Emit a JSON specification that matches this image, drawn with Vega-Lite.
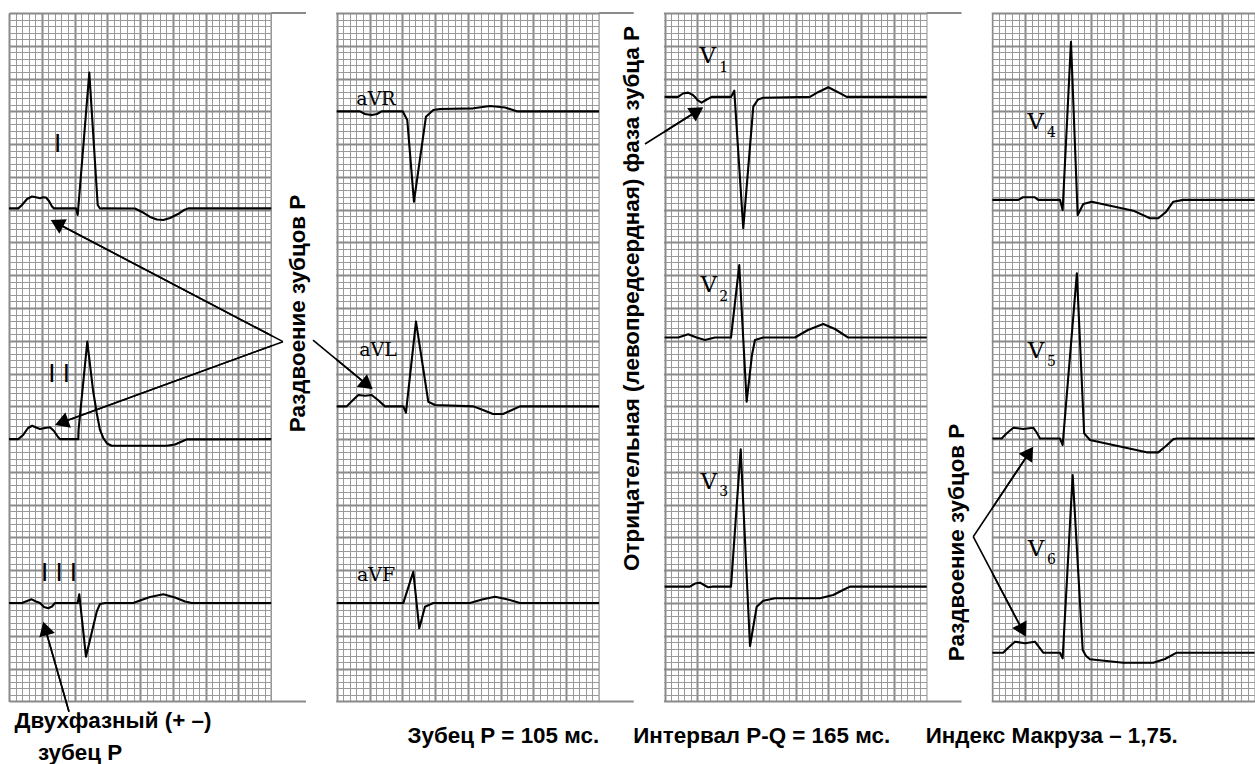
{
  "$schema": "https://vega.github.io/schema/vega-lite/v6.json",
  "width": 1245.6,
  "height": 688.4,
  "autosize": {"type": "none"},
  "padding": {"left": 9, "top": 13, "right": 0.4, "bottom": 62.6},
  "background": "white",
  "config": {"view": {"stroke": null}},
  "datasets": {
    "traces": [
      {"lead":"I","x":0,"y":75.2},{"lead":"I","x":1.42,"y":75.2},{"lead":"I","x":1.98,"y":75.72},{"lead":"I","x":2.75,"y":76.63},{"lead":"I","x":3.51,"y":77.01},{"lead":"I","x":4.27,"y":76.86},{"lead":"I","x":4.73,"y":76.74},{"lead":"I","x":5.19,"y":76.89},{"lead":"I","x":5.64,"y":76.86},{"lead":"I","x":6.1,"y":76.33},{"lead":"I","x":6.56,"y":75.49},{"lead":"I","x":6.86,"y":75.2},{"lead":"I","x":10.22,"y":75.2},{"lead":"I","x":10.48,"y":74.19},{"lead":"I","x":12.25,"y":95.9},{"lead":"I","x":13.53,"y":75.72},{"lead":"I","x":13.88,"y":75.18},{"lead":"I","x":14.38,"y":75.2},{"lead":"I","x":19.22,"y":75.18},{"lead":"I","x":20.29,"y":74.65},{"lead":"I","x":21.51,"y":73.89},{"lead":"I","x":22.57,"y":73.5},{"lead":"I","x":23.54,"y":73.43},{"lead":"I","x":24.56,"y":73.74},{"lead":"I","x":25.78,"y":74.34},{"lead":"I","x":26.69,"y":74.95},{"lead":"I","x":27.35,"y":75.2},{"lead":"I","x":40,"y":75.2},
      {"lead":"II","x":0,"y":40},{"lead":"II","x":1.42,"y":40},{"lead":"II","x":2.14,"y":40.63},{"lead":"II","x":2.9,"y":41.7},{"lead":"II","x":3.55,"y":42.05},{"lead":"II","x":4.12,"y":41.78},{"lead":"II","x":4.73,"y":41.55},{"lead":"II","x":5.49,"y":41.7},{"lead":"II","x":6.25,"y":41.81},{"lead":"II","x":6.86,"y":41.24},{"lead":"II","x":7.47,"y":40.33},{"lead":"II","x":7.78,"y":40},{"lead":"II","x":10.57,"y":40},{"lead":"II","x":10.61,"y":41.4},{"lead":"II","x":11.94,"y":54.87},{"lead":"II","x":12.81,"y":47.5},{"lead":"II","x":13.38,"y":43.99},{"lead":"II","x":13.88,"y":41.4},{"lead":"II","x":14.38,"y":40.18},{"lead":"II","x":14.95,"y":39.34},{"lead":"II","x":15.67,"y":39.0},{"lead":"II","x":24.05,"y":39.0},{"lead":"II","x":25.32,"y":39.18},{"lead":"II","x":26.54,"y":39.72},{"lead":"II","x":27.1,"y":39.97},{"lead":"II","x":40,"y":40},
      {"lead":"III","x":0,"y":15},{"lead":"III","x":1.98,"y":15},{"lead":"III","x":2.75,"y":15.31},{"lead":"III","x":3.46,"y":15.57},{"lead":"III","x":4.12,"y":15.24},{"lead":"III","x":4.73,"y":15},{"lead":"III","x":5.34,"y":14.4},{"lead":"III","x":5.99,"y":14.2},{"lead":"III","x":6.56,"y":14.47},{"lead":"III","x":7.02,"y":15},{"lead":"III","x":10.48,"y":15},{"lead":"III","x":10.72,"y":16.34},{"lead":"III","x":11.74,"y":6.82},{"lead":"III","x":13.38,"y":13.68},{"lead":"III","x":13.88,"y":14.86},{"lead":"III","x":14.64,"y":15},{"lead":"III","x":18.96,"y":15},{"lead":"III","x":19.98,"y":15.39},{"lead":"III","x":21.51,"y":15.92},{"lead":"III","x":23.54,"y":16.34},{"lead":"III","x":25.32,"y":15.85},{"lead":"III","x":26.85,"y":15.24},{"lead":"III","x":27.87,"y":15},{"lead":"III","x":40,"y":15},
      {"lead":"aVR","x":50,"y":90},{"lead":"aVR","x":53.54,"y":90},{"lead":"aVR","x":54.3,"y":89.6},{"lead":"aVR","x":55.32,"y":89.44},{"lead":"aVR","x":56.13,"y":89.6},{"lead":"aVR","x":56.85,"y":90},{"lead":"aVR","x":60.05,"y":90},{"lead":"aVR","x":60.75,"y":88.68},{"lead":"aVR","x":61.77,"y":76.22},{"lead":"aVR","x":63.6,"y":89.18},{"lead":"aVR","x":64.72,"y":90.21},{"lead":"aVR","x":65.74,"y":90.36},{"lead":"aVR","x":70.82,"y":90.46},{"lead":"aVR","x":73.37,"y":90.82},{"lead":"aVR","x":75.66,"y":90.59},{"lead":"aVR","x":77.44,"y":90},{"lead":"aVR","x":90,"y":90},
      {"lead":"aVL","x":50,"y":45},{"lead":"aVL","x":51.51,"y":45},{"lead":"aVL","x":52.32,"y":45.82},{"lead":"aVL","x":53.28,"y":46.74},{"lead":"aVL","x":54.3,"y":46.63},{"lead":"aVL","x":55.32,"y":46.74},{"lead":"aVL","x":56.28,"y":45.97},{"lead":"aVL","x":57.35,"y":45},{"lead":"aVL","x":60.14,"y":45},{"lead":"aVL","x":60.55,"y":44.04},{"lead":"aVL","x":62.08,"y":57.92},{"lead":"aVL","x":63.96,"y":45.71},{"lead":"aVL","x":64.98,"y":45.21},{"lead":"aVL","x":70.82,"y":45},{"lead":"aVL","x":72.3,"y":44.45},{"lead":"aVL","x":73.82,"y":43.84},{"lead":"aVL","x":75.35,"y":43.84},{"lead":"aVL","x":76.72,"y":44.45},{"lead":"aVL","x":77.94,"y":45},{"lead":"aVL","x":90,"y":45},
      {"lead":"aVF","x":50,"y":15},{"lead":"aVF","x":60.14,"y":15},{"lead":"aVF","x":61.67,"y":19.78},{"lead":"aVF","x":62.58,"y":11.15},{"lead":"aVF","x":63.45,"y":14.44},{"lead":"aVF","x":64.72,"y":15},{"lead":"aVF","x":70.32,"y":15},{"lead":"aVF","x":72.15,"y":15.54},{"lead":"aVF","x":74.13,"y":15.97},{"lead":"aVF","x":76.11,"y":15.54},{"lead":"aVF","x":77.94,"y":15},{"lead":"aVF","x":90,"y":15},
      {"lead":"V1","x":100,"y":92.2},{"lead":"V1","x":102.07,"y":92.2},{"lead":"V1","x":102.79,"y":92.72},{"lead":"V1","x":103.6,"y":92.85},{"lead":"V1","x":104.32,"y":92.49},{"lead":"V1","x":104.63,"y":92.2},{"lead":"V1","x":105.09,"y":91.66},{"lead":"V1","x":105.65,"y":91.32},{"lead":"V1","x":106.31,"y":91.73},{"lead":"V1","x":107.18,"y":92.2},{"lead":"V1","x":110.13,"y":92.2},{"lead":"V1","x":110.63,"y":93.15},{"lead":"V1","x":112.0,"y":72.16},{"lead":"V1","x":113.53,"y":90.71},{"lead":"V1","x":114.25,"y":91.81},{"lead":"V1","x":115.05,"y":92.08},{"lead":"V1","x":122.18,"y":92.2},{"lead":"V1","x":123.4,"y":92.92},{"lead":"V1","x":124.97,"y":93.67},{"lead":"V1","x":126.45,"y":92.92},{"lead":"V1","x":127.78,"y":92.2},{"lead":"V1","x":140,"y":92.2},
      {"lead":"V2","x":100,"y":55.5},{"lead":"V2","x":102.07,"y":55.5},{"lead":"V2","x":103.6,"y":55.99},{"lead":"V2","x":104.88,"y":55.5},{"lead":"V2","x":106.15,"y":55.12},{"lead":"V2","x":107.67,"y":55.5},{"lead":"V2","x":110.13,"y":55.5},{"lead":"V2","x":111.39,"y":66.56},{"lead":"V2","x":112.52,"y":45.71},{"lead":"V2","x":113.33,"y":52.84},{"lead":"V2","x":113.79,"y":55.12},{"lead":"V2","x":115.05,"y":55.5},{"lead":"V2","x":119.89,"y":55.5},{"lead":"V2","x":121.87,"y":56.65},{"lead":"V2","x":124.2,"y":57.56},{"lead":"V2","x":125.99,"y":56.8},{"lead":"V2","x":128.02,"y":55.5},{"lead":"V2","x":140,"y":55.5},
      {"lead":"V3","x":100,"y":17.5},{"lead":"V3","x":103.87,"y":17.5},{"lead":"V3","x":104.64,"y":17.98},{"lead":"V3","x":105.4,"y":18.11},{"lead":"V3","x":106.16,"y":17.68},{"lead":"V3","x":106.66,"y":17.4},{"lead":"V3","x":107.23,"y":17.5},{"lead":"V3","x":110.13,"y":17.5},{"lead":"V3","x":111.61,"y":38.45},{"lead":"V3","x":113.03,"y":8.45},{"lead":"V3","x":114.05,"y":14.44},{"lead":"V3","x":115.05,"y":15.36},{"lead":"V3","x":116.84,"y":15.73},{"lead":"V3","x":123.7,"y":15.73},{"lead":"V3","x":125.73,"y":16.23},{"lead":"V3","x":127.21,"y":16.99},{"lead":"V3","x":128.28,"y":17.5},{"lead":"V3","x":140,"y":17.5},
      {"lead":"V4","x":150,"y":76.5},{"lead":"V4","x":153.95,"y":76.5},{"lead":"V4","x":154.66,"y":76.89},{"lead":"V4","x":156.49,"y":76.89},{"lead":"V4","x":157.0,"y":76.5},{"lead":"V4","x":160.31,"y":76.5},{"lead":"V4","x":160.72,"y":74.95},{"lead":"V4","x":161.99,"y":100.62},{"lead":"V4","x":163.01,"y":74.19},{"lead":"V4","x":163.87,"y":75.87},{"lead":"V4","x":165.15,"y":76.22},{"lead":"V4","x":171.49,"y":74.85},{"lead":"V4","x":174.04,"y":73.69},{"lead":"V4","x":175.3,"y":73.69},{"lead":"V4","x":176.48,"y":74.65},{"lead":"V4","x":177.6,"y":76.22},{"lead":"V4","x":179.12,"y":76.5},{"lead":"V4","x":190,"y":76.5},
      {"lead":"V5","x":150,"y":40.1},{"lead":"V5","x":151.42,"y":40.1},{"lead":"V5","x":152.08,"y":40.79},{"lead":"V5","x":153.19,"y":41.75},{"lead":"V5","x":154.72,"y":41.55},{"lead":"V5","x":156.24,"y":41.75},{"lead":"V5","x":156.81,"y":40.94},{"lead":"V5","x":157.26,"y":40.1},{"lead":"V5","x":160.31,"y":40.1},{"lead":"V5","x":160.72,"y":39.11},{"lead":"V5","x":162.89,"y":65.3},{"lead":"V5","x":164.0,"y":40.89},{"lead":"V5","x":164.89,"y":39.87},{"lead":"V5","x":173.53,"y":37.99},{"lead":"V5","x":175.3,"y":37.99},{"lead":"V5","x":176.48,"y":38.96},{"lead":"V5","x":177.6,"y":40.0},{"lead":"V5","x":178.2,"y":40.1},{"lead":"V5","x":190,"y":40.1},
      {"lead":"V6","x":150,"y":7.43},{"lead":"V6","x":151.65,"y":7.43},{"lead":"V6","x":152.38,"y":8.15},{"lead":"V6","x":153.44,"y":9.11},{"lead":"V6","x":154.97,"y":8.86},{"lead":"V6","x":156.49,"y":9.11},{"lead":"V6","x":157.1,"y":8.3},{"lead":"V6","x":157.76,"y":7.43},{"lead":"V6","x":160.31,"y":7.43},{"lead":"V6","x":160.72,"y":6.57},{"lead":"V6","x":162.25,"y":34.53},{"lead":"V6","x":163.78,"y":7.84},{"lead":"V6","x":164.29,"y":6.92},{"lead":"V6","x":164.89,"y":6.42},{"lead":"V6","x":169.97,"y":5.9},{"lead":"V6","x":174.54,"y":5.9},{"lead":"V6","x":176.33,"y":6.47},{"lead":"V6","x":178.11,"y":7.43},{"lead":"V6","x":190,"y":7.43}
    ],
    "gaps": [
      {"x": 40.1, "x2": 49.9},
      {"x": 90.1, "x2": 99.9},
      {"x": 140.1, "x2": 149.9}
    ],
    "edges": [
      {"x": 40, "x2": 45.3, "y": 105},
      {"x": 40, "x2": 45.3, "y": 0},
      {"x": 90, "x2": 95.3, "y": 105},
      {"x": 90, "x2": 95.3, "y": 0},
      {"x": 140, "x2": 145.3, "y": 105},
      {"x": 140, "x2": 145.3, "y": 0}
    ],
    "arrows": [
      {"id": "I", "x": 41.79, "y": 54.87}, {"id": "I", "x": 7.31, "y": 72.93},
      {"id": "II", "x": 41.79, "y": 54.87}, {"id": "II", "x": 8.02, "y": 42.53},
      {"id": "aVL", "x": 46.37, "y": 55.12}, {"id": "aVL", "x": 54.65, "y": 48.28},
      {"id": "III", "x": 9.15, "y": -1.57}, {"id": "III", "x": 5.52, "y": 11.13},
      {"id": "V1", "x": 97.01, "y": 85.02}, {"id": "V1", "x": 105.0, "y": 90.05},
      {"id": "V5", "x": 147.08, "y": 25.12}, {"id": "V5", "x": 155.64, "y": 37.96},
      {"id": "V6", "x": 147.08, "y": 25.12}, {"id": "V6", "x": 154.62, "y": 10.81}
    ],
    "leadLabels": [
      {"text": "I", "x": 7.43, "y": 85.02},
      {"text": "I I", "x": 7.63, "y": 49.94},
      {"text": "I I I", "x": 7.63, "y": 19.58}
    ],
    "avLabels": [
      {"text": "aVR", "x": 55.98, "y": 91.88},
      {"text": "aVL", "x": 56.28, "y": 53.6},
      {"text": "aVF", "x": 55.98, "y": 19.28}
    ],
    "vLetters": [
      {"text": "V", "x": 106.6, "y": 98.37},
      {"text": "V", "x": 106.75, "y": 63.44},
      {"text": "V", "x": 106.75, "y": 33.54},
      {"text": "V", "x": 156.6, "y": 88.45},
      {"text": "V", "x": 156.65, "y": 53.37},
      {"text": "V", "x": 156.65, "y": 23.32}
    ],
    "vSubs": [
      {"text": "1", "x": 109.0, "y": 96.61},
      {"text": "2", "x": 109.0, "y": 61.68},
      {"text": "3", "x": 109.0, "y": 31.94},
      {"text": "4", "x": 159.0, "y": 86.7},
      {"text": "5", "x": 159.0, "y": 51.77},
      {"text": "6", "x": 159.0, "y": 21.57}
    ],
    "sideNotes": [
      {"text": "Раздвоение зубцов Р", "x": 44.08, "y": 59.17},
      {"text": "Отрицательная (левопредсердная) фаза зубца Р", "x": 95.03, "y": 61.45},
      {"text": "Раздвоение зубцов Р", "x": 144.67, "y": 24.24}
    ],
    "bottomNotes": [
      {"text": "Двухфазный (+ –)", "x": 15.86, "y": -4.09},
      {"text": "зубец Р", "x": 10.83, "y": -8.94},
      {"text": "Зубец Р = 105 мс.", "x": 75.4, "y": -6.39},
      {"text": "Интервал Р-Q = 165 мс.", "x": 114.81, "y": -6.39},
      {"text": "Индекс Макруза – 1,75.", "x": 159.04, "y": -6.39}
    ],
    "headI": [{"x": 7.31, "y": 72.93}],
    "headII": [{"x": 8.02, "y": 42.53}],
    "headAVL": [{"x": 54.65, "y": 48.28}],
    "headIII": [{"x": 5.52, "y": 11.13}],
    "headV1": [{"x": 105.0, "y": 90.05}],
    "headV5": [{"x": 155.64, "y": 37.96}],
    "headV6": [{"x": 154.62, "y": 10.81}]
  },
  "layer": [
    {
      "data": {"name": "traces"},
      "mark": {"type": "line", "color": "#000000", "strokeWidth": 2.1, "strokeJoin": "round"},
      "encoding": {
        "x": {"field": "x", "type": "quantitative", "scale": {"domain": [0, 190], "nice": false, "zero": false},
          "axis": {"orient": "bottom", "values": [0,1,2,3,4,5,6,7,8,9,10,11,12,13,14,15,16,17,18,19,20,21,22,23,24,25,26,27,28,29,30,31,32,33,34,35,36,37,38,39,40,41,42,43,44,45,46,47,48,49,50,51,52,53,54,55,56,57,58,59,60,61,62,63,64,65,66,67,68,69,70,71,72,73,74,75,76,77,78,79,80,81,82,83,84,85,86,87,88,89,90,91,92,93,94,95,96,97,98,99,100,101,102,103,104,105,106,107,108,109,110,111,112,113,114,115,116,117,118,119,120,121,122,123,124,125,126,127,128,129,130,131,132,133,134,135,136,137,138,139,140,141,142,143,144,145,146,147,148,149,150,151,152,153,154,155,156,157,158,159,160,161,162,163,164,165,166,167,168,169,170,171,172,173,174,175,176,177,178,179,180,181,182,183,184,185,186,187,188,189,190],
            "grid": true, "gridColor": "#999999", "gridWidth": 1, "domain": false, "ticks": false, "labels": false, "title": null}},
        "y": {"field": "y", "type": "quantitative", "scale": {"domain": [0, 105], "nice": false, "zero": false},
          "axis": {"orient": "left", "values": [0,1,2,3,4,5,6,7,8,9,10,11,12,13,14,15,16,17,18,19,20,21,22,23,24,25,26,27,28,29,30,31,32,33,34,35,36,37,38,39,40,41,42,43,44,45,46,47,48,49,50,51,52,53,54,55,56,57,58,59,60,61,62,63,64,65,66,67,68,69,70,71,72,73,74,75,76,77,78,79,80,81,82,83,84,85,86,87,88,89,90,91,92,93,94,95,96,97,98,99,100,101,102,103,104,105],
            "grid": true, "gridColor": "#999999", "gridWidth": 1, "domain": false, "ticks": false, "labels": false, "title": null}},
        "detail": {"field": "lead", "type": "nominal"}
      }
    },
    {
      "data": {"name": "arrows"},
      "mark": {"type": "line", "color": "#000000", "strokeWidth": 1.6},
      "encoding": {
        "x": {"field": "x", "type": "quantitative", "scale": {"domain": [0, 190], "nice": false, "zero": false},
          "axis": {"orient": "top", "values": [0,5,10,15,20,25,30,35,40,45,50,55,60,65,70,75,80,85,90,95,100,105,110,115,120,125,130,135,140,145,150,155,160,165,170,175,180,185,190],
            "grid": true, "gridColor": "#8a8a8a", "gridWidth": 2, "domain": false, "ticks": false, "labels": false, "title": null}},
        "y": {"field": "y", "type": "quantitative", "scale": {"domain": [0, 105], "nice": false, "zero": false},
          "axis": {"orient": "right", "values": [0,5,10,15,20,25,30,35,40,45,50,55,60,65,70,75,80,85,90,95,100,105],
            "grid": true, "gridColor": "#8a8a8a", "gridWidth": 2, "domain": false, "ticks": false, "labels": false, "title": null}},
        "detail": {"field": "id", "type": "nominal"}
      }
    },
    {
      "data": {"name": "gaps"},
      "mark": {"type": "rect", "fill": "white", "stroke": null},
      "encoding": {
        "x": {"field": "x", "type": "quantitative", "scale": {"domain": [0, 190], "nice": false, "zero": false}, "axis": null},
        "x2": {"field": "x2"},
        "y": {"datum": -1, "type": "quantitative", "scale": {"domain": [0, 105], "nice": false, "zero": false}, "axis": null},
        "y2": {"datum": 106}
      }
    },
    {
      "data": {"name": "edges"},
      "mark": {"type": "rule", "color": "#8a8a8a", "strokeWidth": 2},
      "encoding": {
        "x": {"field": "x", "type": "quantitative", "scale": {"domain": [0, 190], "nice": false, "zero": false}, "axis": null},
        "x2": {"field": "x2"},
        "y": {"field": "y", "type": "quantitative", "scale": {"domain": [0, 105], "nice": false, "zero": false}, "axis": null}
      }
    },
    {
      "data": {"name": "arrows"},
      "mark": {"type": "line", "color": "#000000", "strokeWidth": 1.6},
      "encoding": {
        "x": {"field": "x", "type": "quantitative", "scale": {"domain": [0, 190], "nice": false, "zero": false}, "axis": null},
        "y": {"field": "y", "type": "quantitative", "scale": {"domain": [0, 105], "nice": false, "zero": false}, "axis": null},
        "detail": {"field": "id", "type": "nominal"}
      }
    },
    {"data": {"name": "headI"}, "mark": {"type": "point", "shape": "triangle-up", "filled": true, "color": "#000000", "opacity": 1, "size": 260, "angle": 297.6},
      "encoding": {"x": {"field": "x", "type": "quantitative", "scale": {"domain": [0, 190], "nice": false, "zero": false}, "axis": null}, "y": {"field": "y", "type": "quantitative", "scale": {"domain": [0, 105], "nice": false, "zero": false}, "axis": null}}},
    {"data": {"name": "headII"}, "mark": {"type": "point", "shape": "triangle-up", "filled": true, "color": "#000000", "opacity": 1, "size": 260, "angle": 249.9},
      "encoding": {"x": {"field": "x", "type": "quantitative", "scale": {"domain": [0, 190], "nice": false, "zero": false}, "axis": null}, "y": {"field": "y", "type": "quantitative", "scale": {"domain": [0, 105], "nice": false, "zero": false}, "axis": null}}},
    {"data": {"name": "headAVL"}, "mark": {"type": "point", "shape": "triangle-up", "filled": true, "color": "#000000", "opacity": 1, "size": 260, "angle": 129.5},
      "encoding": {"x": {"field": "x", "type": "quantitative", "scale": {"domain": [0, 190], "nice": false, "zero": false}, "axis": null}, "y": {"field": "y", "type": "quantitative", "scale": {"domain": [0, 105], "nice": false, "zero": false}, "axis": null}}},
    {"data": {"name": "headIII"}, "mark": {"type": "point", "shape": "triangle-up", "filled": true, "color": "#000000", "opacity": 1, "size": 260, "angle": 344.1},
      "encoding": {"x": {"field": "x", "type": "quantitative", "scale": {"domain": [0, 190], "nice": false, "zero": false}, "axis": null}, "y": {"field": "y", "type": "quantitative", "scale": {"domain": [0, 105], "nice": false, "zero": false}, "axis": null}}},
    {"data": {"name": "headV1"}, "mark": {"type": "point", "shape": "triangle-up", "filled": true, "color": "#000000", "opacity": 1, "size": 260, "angle": 57.8},
      "encoding": {"x": {"field": "x", "type": "quantitative", "scale": {"domain": [0, 190], "nice": false, "zero": false}, "axis": null}, "y": {"field": "y", "type": "quantitative", "scale": {"domain": [0, 105], "nice": false, "zero": false}, "axis": null}}},
    {"data": {"name": "headV5"}, "mark": {"type": "point", "shape": "triangle-up", "filled": true, "color": "#000000", "opacity": 1, "size": 260, "angle": 33.7},
      "encoding": {"x": {"field": "x", "type": "quantitative", "scale": {"domain": [0, 190], "nice": false, "zero": false}, "axis": null}, "y": {"field": "y", "type": "quantitative", "scale": {"domain": [0, 105], "nice": false, "zero": false}, "axis": null}}},
    {"data": {"name": "headV6"}, "mark": {"type": "point", "shape": "triangle-up", "filled": true, "color": "#000000", "opacity": 1, "size": 260, "angle": 152.2},
      "encoding": {"x": {"field": "x", "type": "quantitative", "scale": {"domain": [0, 190], "nice": false, "zero": false}, "axis": null}, "y": {"field": "y", "type": "quantitative", "scale": {"domain": [0, 105], "nice": false, "zero": false}, "axis": null}}},
    {
      "data": {"name": "leadLabels"},
      "mark": {"type": "text", "font": "Liberation Sans", "fontSize": 26, "color": "#000000", "align": "center", "baseline": "middle"},
      "encoding": {
        "x": {"field": "x", "type": "quantitative", "scale": {"domain": [0, 190], "nice": false, "zero": false}, "axis": null},
        "y": {"field": "y", "type": "quantitative", "scale": {"domain": [0, 105], "nice": false, "zero": false}, "axis": null},
        "text": {"field": "text"}
      }
    },
    {
      "data": {"name": "avLabels"},
      "mark": {"type": "text", "font": "DejaVu Serif", "fontSize": 19, "color": "#000000", "align": "center", "baseline": "middle"},
      "encoding": {
        "x": {"field": "x", "type": "quantitative", "scale": {"domain": [0, 190], "nice": false, "zero": false}, "axis": null},
        "y": {"field": "y", "type": "quantitative", "scale": {"domain": [0, 105], "nice": false, "zero": false}, "axis": null},
        "text": {"field": "text"}
      }
    },
    {
      "data": {"name": "vLetters"},
      "mark": {"type": "text", "font": "DejaVu Serif", "fontSize": 23, "color": "#000000", "align": "center", "baseline": "middle"},
      "encoding": {
        "x": {"field": "x", "type": "quantitative", "scale": {"domain": [0, 190], "nice": false, "zero": false}, "axis": null},
        "y": {"field": "y", "type": "quantitative", "scale": {"domain": [0, 105], "nice": false, "zero": false}, "axis": null},
        "text": {"field": "text"}
      }
    },
    {
      "data": {"name": "vSubs"},
      "mark": {"type": "text", "font": "DejaVu Serif", "fontSize": 14, "color": "#000000", "align": "center", "baseline": "middle"},
      "encoding": {
        "x": {"field": "x", "type": "quantitative", "scale": {"domain": [0, 190], "nice": false, "zero": false}, "axis": null},
        "y": {"field": "y", "type": "quantitative", "scale": {"domain": [0, 105], "nice": false, "zero": false}, "axis": null},
        "text": {"field": "text"}
      }
    },
    {
      "data": {"name": "sideNotes"},
      "mark": {"type": "text", "font": "Liberation Sans", "fontSize": 22.4, "fontWeight": "bold", "color": "#000000", "align": "center", "baseline": "middle", "angle": 270},
      "encoding": {
        "x": {"field": "x", "type": "quantitative", "scale": {"domain": [0, 190], "nice": false, "zero": false}, "axis": null},
        "y": {"field": "y", "type": "quantitative", "scale": {"domain": [0, 105], "nice": false, "zero": false}, "axis": null},
        "text": {"field": "text"}
      }
    },
    {
      "data": {"name": "bottomNotes"},
      "mark": {"type": "text", "font": "Liberation Sans", "fontSize": 22.4, "fontWeight": "bold", "color": "#000000", "align": "center", "baseline": "alphabetic"},
      "encoding": {
        "x": {"field": "x", "type": "quantitative", "scale": {"domain": [0, 190], "nice": false, "zero": false}, "axis": null},
        "y": {"field": "y", "type": "quantitative", "scale": {"domain": [0, 105], "nice": false, "zero": false}, "axis": null},
        "text": {"field": "text"}
      }
    }
  ],
  "resolve": {"axis": {"x": "independent", "y": "independent"}}
}
